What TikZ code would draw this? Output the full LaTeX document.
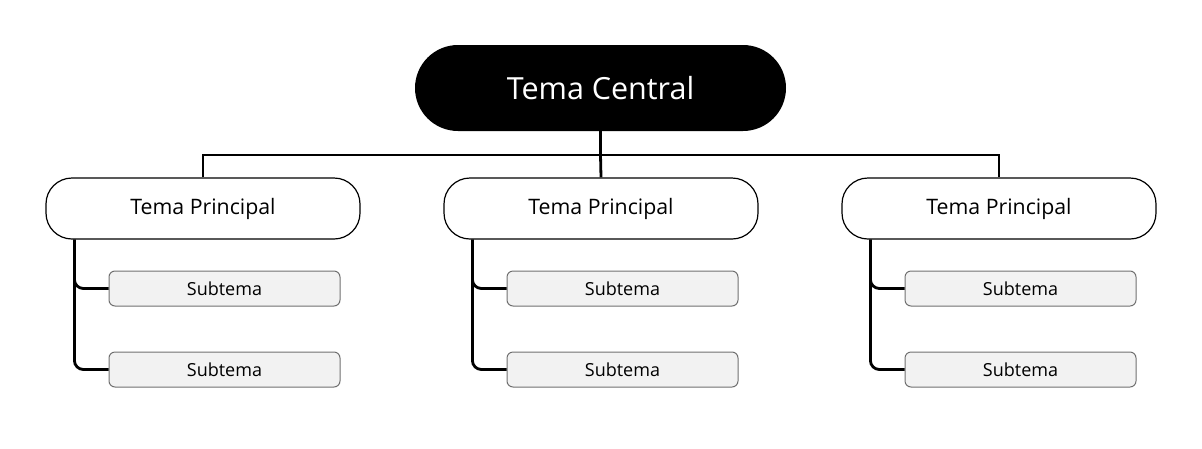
\documentclass[tikz,border=0pt]{standalone}
\usepackage{fontspec}
\setmainfont{Open Sans}
\usepackage{xcolor}
\usepackage{tikz}

\definecolor{subfill}{HTML}{F2F2F2}
\definecolor{subline}{HTML}{707070}

\begin{document}
\begin{tikzpicture}[x=1pt, y=-1pt,
    central/.style={rounded corners=43pt, fill=black, text=white, minimum width=371pt, minimum height=86pt, font=\fontsize{30.5}{34}\selectfont},
    principal/.style={rounded corners=26pt, draw, line width=1.2pt, fill=white, minimum width=314pt, minimum height=61pt, font=\fontsize{21.3}{25}\selectfont},
    subtema/.style={rounded corners=6pt, draw=subline, line width=1pt, fill=subfill, minimum width=231pt, minimum height=35pt, font=\fontsize{18}{21}\selectfont},
    branch/.style={line width=2.8pt, rounded corners=9pt}]
    \useasboundingbox (0,0) rectangle (1202,448);

    \node[central] (C) at (600.5,88) {Tema Central};

    \node[principal] (P1) at (203,208.5) {Tema Principal};
    \node[principal] (P2) at (601,208.5) {Tema Principal};
    \node[principal] (P3) at (999,208.5) {Tema Principal};

    \node[subtema] (S11) at (224.5,288.5) {Subtema};
    \node[subtema] (S12) at (224.5,369.5) {Subtema};
    \node[subtema] (S21) at (622.5,288.5) {Subtema};
    \node[subtema] (S22) at (622.5,369.5) {Subtema};
    \node[subtema] (S31) at (1020.5,288.5) {Subtema};
    \node[subtema] (S32) at (1020.5,369.5) {Subtema};

    \coordinate (bar) at (600.5,155);

    \draw[line width=2.8pt] (C.south) -- (bar);
    \draw[line width=2.8pt] (P1.north) |- (bar) -| (P3.north);
    \draw[line width=2.8pt] (bar) -- (P2.north);

    \foreach \p in {1,2,3} {
        \draw[branch] ([xshift=29pt]P\p.south west) |- (S\p1.west);
        \draw[branch] ([xshift=29pt]P\p.south west) |- (S\p2.west);
    }
\end{tikzpicture}
\end{document}
